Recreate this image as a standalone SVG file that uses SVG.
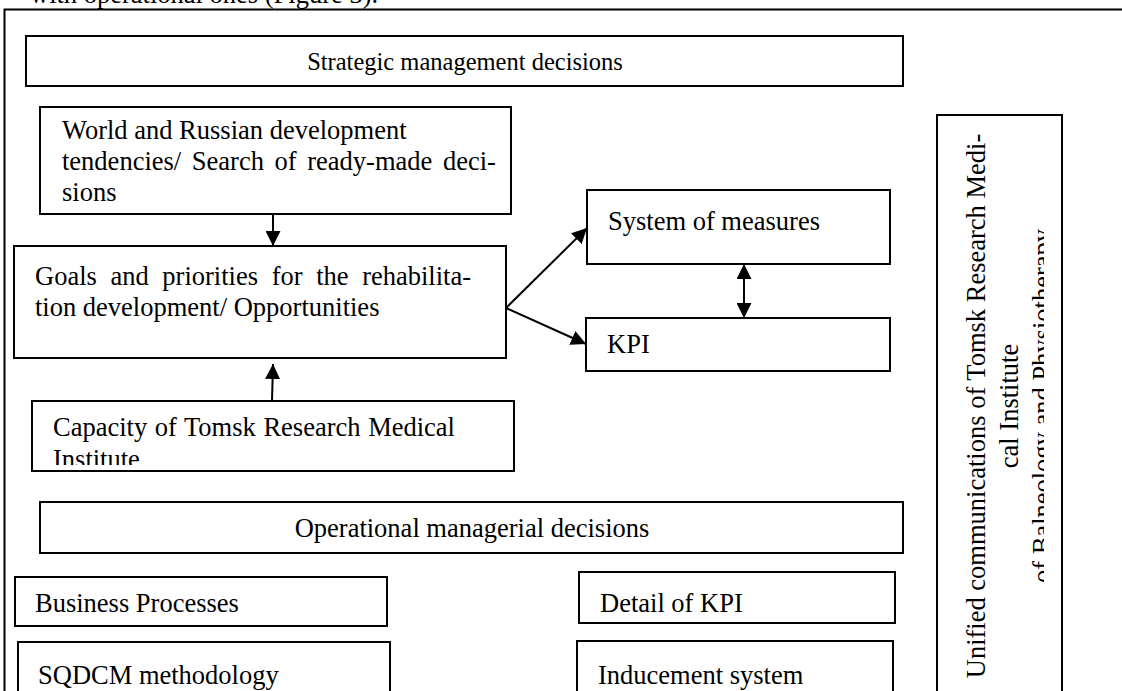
<svg xmlns="http://www.w3.org/2000/svg" width="1122" height="691" viewBox="0 0 1122 691">
<style>
.b{fill:#fff;stroke:#000;stroke-width:2}
.t{font-family:"Liberation Serif","Times New Roman",serif;font-size:26.5px;fill:#000}
.c{stroke:#000;stroke-width:2;fill:none}
</style>
<defs>
<marker id="ah" viewBox="0 0 10 10" refX="10" refY="5" markerWidth="15" markerHeight="15" markerUnits="userSpaceOnUse" orient="auto-start-reverse">
<path d="M0,0 L10,5 L0,10 Z" fill="#000"/>
</marker>
<clipPath id="capClip"><rect x="33" y="402" width="480" height="63"/></clipPath>
<clipPath id="vClip"><rect x="938" y="116" width="106" height="600"/></clipPath>
</defs>
<rect width="1122" height="691" fill="#fff"/>
<text class="t" x="30" y="3">with operational ones (Figure 3).</text>
<rect x="4.5" y="9.5" width="1200" height="800" style="fill:none;stroke:#000;stroke-width:2"/>
<g id="strategic"><rect class="b" x="26" y="36" width="877" height="50"/><text class="t" x="465" y="70" text-anchor="middle" style="font-size:24.5px">Strategic management decisions</text></g>
<g id="world"><rect class="b" x="40" y="107" width="471" height="107"/><text class="t" x="62" y="139">World and Russian development</text><text class="t" x="62" y="170" word-spacing="4">tendencies/ Search of ready-made deci-</text><text class="t" x="62" y="201">sions</text></g>
<g id="goals"><rect class="b" x="14" y="246" width="492" height="112"/><text class="t" x="35" y="285" word-spacing="7">Goals and priorities for the rehabilita-</text><text class="t" x="35" y="316">tion development/ Opportunities</text></g>
<g id="capacity"><rect class="b" x="32" y="401" width="482" height="70"/><g clip-path="url(#capClip)"><text class="t" x="53" y="436" word-spacing="1">Capacity of Tomsk Research Medical</text><text class="t" x="53" y="468">Institute</text></g></g>
<g id="measures"><rect class="b" x="587" y="190" width="303" height="74"/><text class="t" x="608" y="230">System of measures</text></g>
<g id="kpi"><rect class="b" x="586" y="318" width="304" height="53"/><text class="t" x="607" y="353">KPI</text></g>
<g id="operational"><rect class="b" x="40" y="502" width="863" height="51"/><text class="t" x="472" y="537" text-anchor="middle">Operational managerial decisions</text></g>
<g id="business"><rect class="b" x="15" y="577" width="372" height="49"/><text class="t" x="35" y="612">Business Processes</text></g>
<g id="sqdcm"><rect class="b" x="18" y="642" width="372" height="70"/><text class="t" x="38" y="684">SQDCM methodology</text></g>
<g id="detail"><rect class="b" x="579" y="572" width="316" height="51"/><text class="t" x="600" y="612">Detail of KPI</text></g>
<g id="inducement"><rect class="b" x="577" y="641" width="316" height="70"/><text class="t" x="598" y="684">Inducement system</text></g>
<g id="communications"><rect class="b" x="937" y="115" width="125" height="600"/><g clip-path="url(#vClip)"><text class="t" transform="translate(985,406) rotate(-90)" text-anchor="middle">Unified communications of Tomsk Research Medi-</text><text class="t" transform="translate(1018,406) rotate(-90)" text-anchor="middle">cal Institute</text><text class="t" transform="translate(1051,406) rotate(-90)" text-anchor="middle">of Balneology and Physiotherapy</text></g></g>
<g id="connectors">
<line class="c" x1="273" y1="214" x2="273" y2="246" marker-end="url(#ah)"/>
<line class="c" x1="272" y1="401" x2="273" y2="364" marker-end="url(#ah)"/>
<line class="c" x1="506" y1="308" x2="587" y2="228" marker-end="url(#ah)"/>
<line class="c" x1="506" y1="308" x2="586" y2="344" marker-end="url(#ah)"/>
<line class="c" x1="744" y1="264" x2="744" y2="318" marker-start="url(#ah)" marker-end="url(#ah)"/>
</g>
</svg>
